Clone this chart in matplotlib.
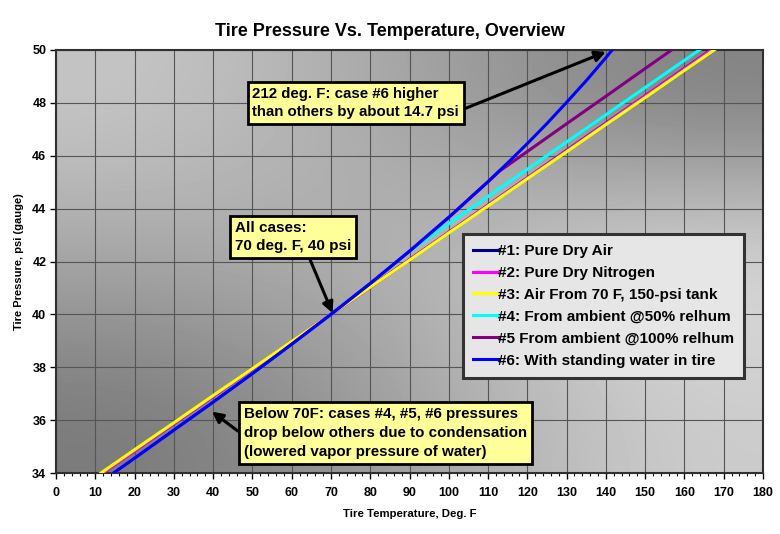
import numpy as np
import matplotlib
matplotlib.use('Agg')
import matplotlib.pyplot as plt
from matplotlib.ticker import MultipleLocator

plt.rcParams['font.family'] = ['Liberation Sans', 'DejaVu Sans']
plt.rcParams['font.weight'] = 'bold'

# Datos
temp_dry = [10, 20, 30, 40, 50, 60, 70, 80, 90, 100, 110, 120, 130, 140, 150, 160, 170]
p_aire = [33.80, 34.84, 35.87, 36.90, 37.94, 38.97, 40.00, 41.03, 42.07, 43.10, 44.13,
          45.16, 46.20, 47.23, 48.26, 49.30, 50.33]
p_nitrogeno = [33.80, 34.83, 35.87, 36.90, 37.93, 38.97, 40.00, 41.03, 42.06, 43.10, 44.13,
               45.16, 46.19, 47.22, 48.26, 49.29, 50.32]
p_tanque = [33.85, 34.88, 35.90, 36.93, 37.95, 38.98, 40.00, 41.03, 42.05, 43.08, 44.10,
            45.13, 46.15, 47.18, 48.20, 49.23, 50.25]
p_hum50 = [33.51, 34.56, 35.62, 36.68, 37.76, 38.87, 40.00, 41.17, 42.39, 43.43, 44.46,
           45.49, 46.52, 47.55, 48.58, 49.61, 50.64]

temp_hum100 = [10, 20, 30, 40, 50, 60, 70, 80, 90, 100, 110, 113, 120, 130, 140, 150, 160]
p_hum100 = [33.51, 34.56, 35.62, 36.68, 37.76, 38.87, 40.00, 41.17, 42.39, 43.67, 45.02,
            45.43, 46.16, 47.21, 48.25, 49.30, 50.34]

temp_agua = [10, 20, 30, 40, 50, 60, 70, 80, 90, 100, 110, 115, 120, 125, 130, 135, 140, 145]
p_agua = [33.51, 34.56, 35.62, 36.68, 37.76, 38.87, 40.00, 41.17, 42.39, 43.67, 45.02,
          45.73, 46.46, 47.22, 48.02, 48.84, 49.71, 50.62]

etiquetas = ['#1: Pure Dry Air', '#2: Pure Dry Nitrogen', '#3: Air From 70 F, 150-psi tank',
             '#4: From ambient @50% relhum', '#5 From ambient @100% relhum',
             '#6: With standing water in tire']
colores = ['#000080', '#ff00ff', '#ffff00', '#00ffff', '#800080', '#0000ff']

fig = plt.figure(figsize=(7.8, 5.34), dpi=100)
ax = fig.add_axes([56 / 780, 61 / 534, 707 / 780, 423 / 534])

# fondo degradado
fondo = np.array([[0.78, 0.64, 0.50],
                  [0.65, 0.70, 0.88],
                  [0.47, 0.63, 0.80]])
ax.imshow(fondo, cmap='gray', vmin=0, vmax=1, extent=[0, 1, 0, 1], transform=ax.transAxes,
          interpolation='bicubic', aspect='auto', zorder=0)

series = [(temp_dry, p_aire), (temp_dry, p_nitrogeno), (temp_dry, p_tanque),
          (temp_dry, p_hum50), (temp_hum100, p_hum100), (temp_agua, p_agua)]
for (t, p), c, lab in zip(series, colores, etiquetas):
    ax.plot(t, p, color=c, lw=2.2, label=lab, zorder=3)

ax.set_xlim(0, 180)
ax.set_ylim(34, 50)
ax.xaxis.set_major_locator(MultipleLocator(10))
ax.xaxis.set_minor_locator(MultipleLocator(2))
ax.yaxis.set_major_locator(MultipleLocator(2))
ax.grid(True, which='major', color='#555555', lw=0.8, zorder=1)
ax.set_axisbelow(True)
for s in ax.spines.values():
    s.set_color('#303030')
    s.set_linewidth(1.5)
ax.tick_params(axis='both', which='major', labelsize=9, length=4, width=1)
ax.tick_params(axis='x', which='major', pad=6)
ax.tick_params(axis='y', which='major', pad=3)
ax.tick_params(axis='x', which='minor', length=2, width=0.8)
for lbl in ax.get_xticklabels() + ax.get_yticklabels():
    lbl.set_fontweight('bold')

ax.set_xlabel('Tire Temperature, Deg. F', fontsize=8.2, fontweight='bold', labelpad=7)
ax.set_ylabel('Tire Pressure, psi (gauge)', fontsize=8, fontweight='bold', labelpad=6)
fig.text(0.5, 1 - 31 / 534, 'Tire Pressure Vs. Temperature, Overview', ha='center', va='center',
         fontsize=13, fontweight='bold')

caja = dict(boxstyle='square,pad=0.32', fc='#ffff99', ec='black', lw=2)
flecha = dict(arrowstyle='-|>', color='black', lw=2.2, mutation_scale=16, shrinkA=0, shrinkB=0)

ax.annotate('212 deg. F: case #6 higher\nthan others by about 14.7 psi', xy=(140.0, 49.93),
            xytext=(50.0, 48.6), ha='left', va='top', fontsize=10.8, fontweight='bold',
            linespacing=1.35, bbox=caja, arrowprops=dict(flecha, relpos=(1.0, 0.25)), zorder=5)
ax.annotate('All cases:\n70 deg. F, 40 psi', xy=(70.4, 40.05),
            xytext=(45.6, 43.55), ha='left', va='top', fontsize=11, fontweight='bold',
            linespacing=1.4, bbox=caja, arrowprops=dict(flecha, relpos=(0.62, 0.0)), zorder=5)
ax.annotate('Below 70F: cases #4, #5, #6 pressures\ndrop below others due to condensation\n'
            '(lowered vapor pressure of water)', xy=(39.7, 36.32),
            xytext=(47.8, 36.5), ha='left', va='top', fontsize=10.9, fontweight='bold',
            linespacing=1.45, bbox=caja, arrowprops=dict(flecha, relpos=(0.0, 0.45)), zorder=5)

leg = ax.legend(loc='upper left', bbox_to_anchor=(0.576, 0.565), borderaxespad=0,
                handlelength=1.6, handletextpad=0.05, labelspacing=0.52, borderpad=0.65,
                fancybox=False, framealpha=1, prop={'weight': 'bold', 'size': 11})
leg.get_frame().set_facecolor('#e6e6e6')
leg.get_frame().set_edgecolor('#333333')
leg.get_frame().set_linewidth(2.2)
leg.set_zorder(6)

fig.savefig('out.png', dpi=100)
